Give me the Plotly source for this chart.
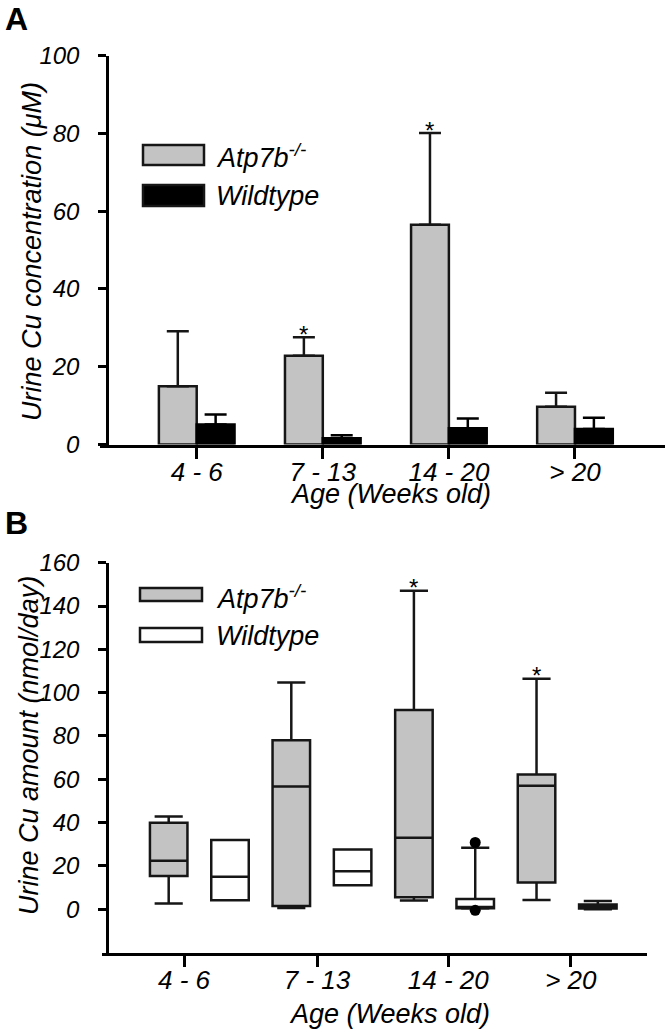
import plotly.graph_objects as go
import numpy as np

# ---------------- data ----------------
categories = ["4 - 6", "7 - 13", "14 - 20", "> 20"]

# Panel A: urine Cu concentration (uM), mean and upper error
atp_mean = [15.0, 22.8, 56.5, 9.7]
atp_err = [14.1, 4.8, 23.6, 3.6]
wt_mean = [5.15, 1.6, 4.2, 4.0]
wt_err = [2.55, 0.8, 2.5, 2.9]
atp_sig_a = [False, True, True, False]

# Panel B: urine Cu amount (nmol/day), box statistics
atp_q1 = [15.3, 1.5, 5.5, 12.3]
atp_med = [22.4, 56.7, 33.0, 57.0]
atp_q3 = [39.9, 78.0, 92.0, 62.2]
atp_lo = [2.6, 0.6, 4.0, 4.3]
atp_hi = [42.8, 104.7, 147.1, 106.4]
wt_q1 = [4.1, 11.0, 0.4, 0.3]
wt_med = [15.0, 17.5, 1.0, 1.0]
wt_q3 = [32.0, 27.6, 4.7, 2.2]
wt_lo = [4.1, 11.0, 0.3, 0.0]
wt_hi = [32.0, 27.6, 28.4, 3.8]
wt_outlier_cat = [2, 2]
wt_outlier_val = [30.8, -0.5]
atp_sig_b = [False, False, True, True]

# ---------------- style ----------------
W, H = 671, 1034
FONT = "Liberation Sans, Arial, sans-serif"
GRAY = "#c3c3c3"
EDGE = "#161616"
LW = 2.5
YTICK_FS = 24
XTICK_FS = 26
TITLE_FS = 27
LEG_FS = 27


def px(p):
    return min(max(p / W, 0), 1)


def py(p):
    return min(max(1 - p / H, 0), 1)


fig = go.Figure()

# ---------------- Panel A (bars) ----------------
bargap = 0.4
fig.add_trace(go.Bar(
    x=categories, y=atp_mean, name="Atp7b-/-",
    marker=dict(color=GRAY, line=dict(color=EDGE, width=LW)),
    error_y=dict(type="data", symmetric=False, array=atp_err,
                 arrayminus=[0] * len(atp_err), color=EDGE,
                 thickness=LW, width=11),
    xaxis="x", yaxis="y", showlegend=False,
))
fig.add_trace(go.Bar(
    x=categories, y=wt_mean, name="Wildtype",
    marker=dict(color="#000000", line=dict(color="#000000", width=LW)),
    error_y=dict(type="data", symmetric=False, array=wt_err,
                 arrayminus=[0] * len(wt_err), color="#000000",
                 thickness=LW, width=11),
    xaxis="x", yaxis="y", showlegend=False,
))

# ---------------- Panel B (boxes) ----------------
idx = np.arange(len(categories))
box_off = 0.25
box_w = 0.306
fig.add_trace(go.Box(
    x=idx - box_off, q1=atp_q1, median=atp_med, q3=atp_q3,
    lowerfence=atp_lo, upperfence=atp_hi, boxpoints=False,
    width=box_w, whiskerwidth=0.75, fillcolor=GRAY,
    line=dict(color=EDGE, width=LW), xaxis="x2", yaxis="y2",
    showlegend=False, name="Atp7b-/-",
))
fig.add_trace(go.Box(
    x=idx + box_off, q1=wt_q1, median=wt_med, q3=wt_q3,
    lowerfence=wt_lo, upperfence=wt_hi, boxpoints=False,
    width=box_w, whiskerwidth=0.75, fillcolor="#ffffff",
    line=dict(color=EDGE, width=LW), xaxis="x2", yaxis="y2",
    showlegend=False, name="Wildtype",
))
fig.add_trace(go.Scatter(
    x=[c + box_off for c in wt_outlier_cat], y=wt_outlier_val,
    mode="markers", marker=dict(color="#000000", size=11),
    xaxis="x2", yaxis="y2", showlegend=False,
))

# ---------------- annotations ----------------
ann = []
bar_off = (1 - bargap) / 4
for i, s in enumerate(atp_sig_a):
    if s:
        ann.append(dict(x=i - bar_off, y=atp_mean[i] + atp_err[i], xref="x", yref="y",
                        text="*", showarrow=False, yanchor="middle", yshift=3,
                        font=dict(family=FONT, size=24, color="#000")))
for i, s in enumerate(atp_sig_b):
    if s:
        ann.append(dict(x=i - box_off, y=atp_hi[i], xref="x2", yref="y2",
                        text="*", showarrow=False, yanchor="middle", yshift=3,
                        font=dict(family=FONT, size=24, color="#000")))

# panel letters
ann.append(dict(x=px(3), y=py(19), xref="paper", yref="paper", text="<b>A</b>",
                showarrow=False, xanchor="left", yanchor="middle",
                font=dict(family=FONT, size=32, color="#000")))
ann.append(dict(x=px(3), y=py(523), xref="paper", yref="paper", text="<b>B</b>",
                showarrow=False, xanchor="left", yanchor="middle",
                font=dict(family=FONT, size=32, color="#000")))

# axis titles
tfont = dict(family=FONT, size=TITLE_FS, color="#000", style="italic")
ann.append(dict(x=px(32), y=py(252), xref="paper", yref="paper",
                text="Urine Cu concentration (μM)", textangle=-90,
                showarrow=False, xanchor="center", yanchor="middle", font=tfont))
ann.append(dict(x=px(390), y=py(494), xref="paper", yref="paper",
                text="Age (Weeks old)", showarrow=False,
                xanchor="center", yanchor="middle", font=tfont))
ann.append(dict(x=px(29), y=py(746), xref="paper", yref="paper",
                text="Urine Cu amount (nmol/day)", textangle=-90,
                showarrow=False, xanchor="center", yanchor="middle", font=tfont))
ann.append(dict(x=px(389), y=py(1014), xref="paper", yref="paper",
                text="Age (Weeks old)", showarrow=False,
                xanchor="center", yanchor="middle", font=tfont))

# legends
lfont = dict(family=FONT, size=LEG_FS, color="#000", style="italic")
shapes = []


def legend_entry(x0, x1, y0, y1, fill, label, tx, ty):
    shapes.append(dict(type="rect", xref="paper", yref="paper",
                       x0=px(x0), x1=px(x1), y0=py(y1), y1=py(y0),
                       fillcolor=fill, line=dict(color=EDGE, width=LW)))
    ann.append(dict(x=px(tx), y=py(ty), xref="paper", yref="paper",
                    text=label, showarrow=False, xanchor="left", yanchor="middle",
                    font=lfont))


legend_entry(143, 204, 145, 165, GRAY, "Atp7b<sup>-/-</sup>", 214, 156)
legend_entry(143, 204, 185, 206, "#000000", "Wildtype", 214, 196)
legend_entry(140, 202, 588, 601, GRAY, "Atp7b<sup>-/-</sup>", 214, 597)
legend_entry(140, 202, 628, 642, "#ffffff", "Wildtype", 214, 636)

# ---------------- axes ----------------
common_x = dict(showline=True, linewidth=LW, linecolor="#000", ticks="outside",
                ticklen=12, tickwidth=LW, tickcolor="#000", showgrid=False,
                zeroline=False, automargin=False, ticklabelstandoff=-9,
                tickfont=dict(family=FONT, size=XTICK_FS, color="#000", style="italic"))
common_y = dict(showline=True, linewidth=LW, linecolor="#000", ticks="outside",
                ticklen=8, tickwidth=LW, tickcolor="#000", showgrid=False,
                zeroline=False, anchor="free", automargin=False,
                ticklabelstandoff=14,
                tickfont=dict(family=FONT, size=YTICK_FS, color="#000", style="italic"))

tick_pos_b = [-0.125, 0.96, 2.03, 3.03]

fig.update_layout(
    width=W, height=H,
    margin=dict(l=0, r=0, t=0, b=0, autoexpand=False),
    paper_bgcolor="#ffffff", plot_bgcolor="rgba(0,0,0,0)",
    barmode="group", bargap=bargap, bargroupgap=0,
    showlegend=False,
    xaxis=dict(domain=[px(100), px(665)], anchor="y", type="category",
               range=[-0.767, 3.714], **common_x),
    yaxis=dict(domain=[py(444.5), py(55.7)], range=[0, 100],
               tickvals=[0, 20, 40, 60, 80, 100], position=px(107), **common_y),
    xaxis2=dict(domain=[px(101.5), px(647)], anchor="y2", range=[-0.798, 3.651],
                tickvals=tick_pos_b, ticktext=categories, **common_x),
    yaxis2=dict(domain=[py(952.5), py(562.7)], range=[-20, 160],
                tickvals=list(range(0, 161, 20)), position=px(107), **common_y),
    annotations=ann,
    shapes=shapes,
)

fig.write_html("out.html", config={"displayModeBar": False},
               post_script="document.body.style.margin='0';")
